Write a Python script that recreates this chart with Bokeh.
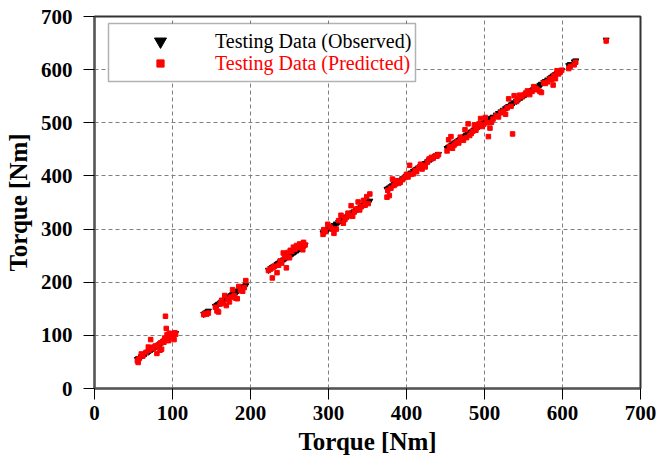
from bokeh.plotting import figure
from bokeh.models import Legend, LegendItem, BoxAnnotation, ColumnDataSource
from bokeh.embed import file_html
from bokeh.resources import INLINE

# Observed torque [Nm] (x = observed, y = observed) and predicted torque [Nm]
torque_observed = [
    55, 56, 57, 60, 62, 66, 69, 70, 72, 74, 76, 78, 80, 82, 84, 85, 86, 88, 89, 90,
    91, 92, 93, 95, 96, 97, 99, 100, 102, 103, 104,
    140, 142, 144, 146, 155, 157, 159, 161, 163, 165, 167, 169, 171, 173, 175, 177,
    179, 181, 183, 185, 187, 190, 192, 194,
    223, 226, 228, 229, 231, 234, 236, 238, 240, 242, 244, 246, 248, 250, 251, 253,
    255, 257, 259, 261, 263, 265, 267, 268, 270,
    293, 294, 296, 299, 302, 305, 307, 310, 313, 316, 319, 321, 323, 325, 327, 329,
    331, 333, 336, 338, 340, 342, 345, 347, 349, 351, 353,
    375, 376, 378, 380, 382, 384, 386, 388, 390, 392, 395, 398, 400, 402, 404, 406,
    409, 411, 413, 415, 418, 420, 422, 424, 427, 429, 432, 434, 437, 439, 441,
    452, 454, 455, 457, 459, 461, 463, 465, 467, 469, 471, 473, 475, 477, 479, 481,
    483, 485, 487, 489, 491, 493, 495, 497, 499, 501, 503, 505, 507, 509, 511,
    515, 518, 521, 524, 527, 529, 531, 534, 536, 538, 541, 543, 545, 548, 551, 553,
    555, 558, 561, 563, 566, 568, 571, 573,
    576, 578, 581, 584, 586, 588, 589, 591, 593, 595, 597, 599, 608, 610, 615, 617,
    656,
]
torque_predicted = [
    52, 49, 56, 65, 61, 68, 78, 72, 92, 75, 78, 80, 66, 82, 72, 86, 74, 89, 87, 95,
    136, 113, 101, 90, 104, 96, 99, 98, 92, 105, 102,
    139, 141, 140, 142, 153, 146, 144, 159, 166, 160, 175, 156, 168, 163, 172, 186,
    175, 170, 169, 192, 185, 183, 190, 203,
    222, 225, 208, 228, 230, 218, 232, 240, 236, 255, 246, 227, 256, 246, 260, 258,
    266, 262, 269, 265, 272, 268, 261, 275, 270,
    290, 299, 295, 309, 304, 300, 292, 300, 316, 326, 311, 318, 322, 330, 325, 344,
    324, 332, 338, 351, 336, 342, 354, 345, 361, 348, 366,
    360, 373, 363, 377, 394, 382, 385, 391, 386, 388, 393, 397, 403, 398, 420, 403,
    404, 410, 408, 415, 422, 413, 420, 417, 426, 432, 435, 433, 438, 437, 440,
    447, 468, 455, 474, 452, 458, 461, 464, 462, 473, 470, 467, 487, 472, 498, 476,
    480, 484, 496, 486, 492, 498, 508, 493, 497, 510, 500, 474, 490, 501, 507,
    513, 511, 519, 522, 516, 528, 545, 531, 479, 551, 540, 545, 552, 549, 553, 556,
    560, 553, 559, 568, 565, 562, 559, 557,
    575, 574, 577, 583, 581, 571, 589, 583, 598, 592, 595, 599, 602, 606, 609, 614,
    654,
]
axis_ticks = [0, 100, 200, 300, 400, 500, 600, 700]
axis_title = "Torque [Nm]"
label_observed = "Testing Data (Observed)"
label_predicted = "Testing Data (Predicted)"

source = ColumnDataSource(dict(obs=torque_observed, pred=torque_predicted))

SERIF = "Liberation Serif"

p = figure(width=660, height=464, output_backend="svg", toolbar_location=None,
           x_range=(0, 700), y_range=(0, 700),
           min_border_left=94, min_border_right=20, min_border_top=16,
           min_border_bottom=76)
p.background_fill_color = "white"
p.border_fill_color = "white"
p.outline_line_color = "#333333"
p.outline_line_width = 2

for ax in (p.xaxis[0], p.yaxis[0]):
    ax.ticker = axis_ticks
    ax.axis_label = axis_title
    ax.axis_label_text_font = SERIF
    ax.axis_label_text_font_style = "bold"
    ax.axis_label_text_font_size = "25px"
    ax.axis_label_text_color = "black"
    ax.major_label_text_font = SERIF
    ax.major_label_text_font_style = "bold"
    ax.major_label_text_font_size = "21px"
    ax.major_label_text_color = "black"
    ax.minor_tick_line_color = None
    ax.major_tick_in = 0
    ax.major_tick_out = 11
    ax.major_tick_line_color = "black"
    ax.axis_line_color = "#555555"
    ax.axis_line_width = 2

p.xaxis.major_label_standoff = 6
p.xaxis.axis_label_standoff = 5
p.yaxis.major_label_standoff = 11
p.yaxis.axis_label_standoff = 6

for g in (p.xgrid[0], p.ygrid[0]):
    g.grid_line_color = "#808080"
    g.grid_line_dash = "4 3"
    g.grid_line_width = 1

r_obs = p.scatter("obs", "obs", source=source, marker="inverted_triangle",
                  size=6, color="black")
r_pred = p.scatter("obs", "pred", source=source, marker="square",
                   size=4.5, color="#ff0000")

box = BoxAnnotation(left=108, right=415, top=23, bottom=81,
                    left_units="canvas", right_units="canvas",
                    top_units="canvas", bottom_units="canvas",
                    fill_color="white", fill_alpha=1.0,
                    line_color="black", line_width=1.5)
p.add_layout(box)

leg_obs = Legend(items=[LegendItem(label=label_observed, renderers=[r_obs])],
                 location=(51, 332), glyph_width=30, glyph_height=30,
                 label_standoff=40, padding=0, margin=0, spacing=0,
                 border_line_alpha=0, background_fill_alpha=0,
                 label_text_font=SERIF, label_text_font_size="20px",
                 label_text_color="black")
leg_pred = Legend(items=[LegendItem(label=label_predicted, renderers=[r_pred])],
                  location=(57, 310), glyph_width=18, glyph_height=30,
                  label_standoff=46, padding=0, margin=0, spacing=0,
                  border_line_alpha=0, background_fill_alpha=0,
                  label_text_font=SERIF, label_text_font_size="20px",
                  label_text_color="#ff0000")
p.add_layout(leg_obs)
p.add_layout(leg_pred)

open("out.html", "w").write(file_html(p, INLINE))
